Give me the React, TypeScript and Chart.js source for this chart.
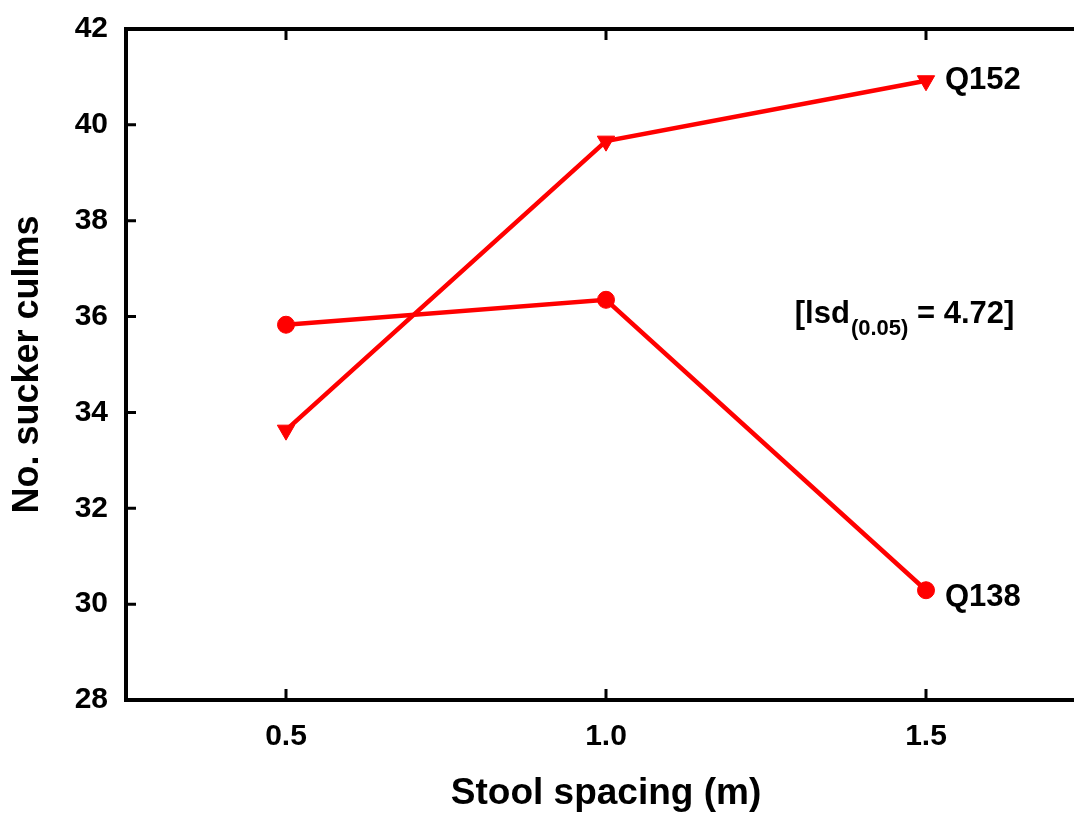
import React, { useEffect, useRef } from "react";
import { Chart, registerables } from "chart.js";

Chart.register(...registerables);

// ---- data ----
const categories = [0.5, 1.0, 1.5];
const q138Values = [35.83, 36.35, 30.29];
const q152Values = [33.63, 39.66, 40.92];
const seriesNames = ["Q138", "Q152"];
const xTickValues = [0.5, 1.0, 1.5];
const yMin = 28;
const yMax = 42;
const yStep = 2;
const xTitle = "Stool spacing (m)";
const yTitle = "No. sucker culms";
const lsdMain = "[lsd";
const lsdSub = "(0.05)";
const lsdTail = " = 4.72]";
const lsdAnchor = [1.295, 35.86];

const FONT = "'Liberation Sans', Arial, Helvetica, sans-serif";
const RED = "#ff0000";
const CANVAS_W = 1097;

const framePlugin = {
  id: "framePlugin",
  afterDraw(chart: any) {
    const { ctx, chartArea, scales } = chart;
    const x = scales.x;
    const y = scales.y;
    const { left, top, right, bottom } = chartArea;
    ctx.save();
    ctx.strokeStyle = "#000";
    ctx.lineWidth = 4;
    ctx.lineCap = "butt";
    ctx.lineJoin = "miter";
    ctx.beginPath();
    ctx.moveTo(right + 4, top);
    ctx.lineTo(left, top);
    ctx.lineTo(left, bottom);
    ctx.lineTo(right + 4, bottom);
    ctx.stroke();
    // inward ticks
    ctx.lineWidth = 3;
    ctx.beginPath();
    for (let v = yMin + yStep; v < yMax; v += yStep) {
      const py = y.getPixelForValue(v);
      ctx.moveTo(left, py);
      ctx.lineTo(left + 10, py);
    }
    for (const v of xTickValues) {
      const px = x.getPixelForValue(v);
      ctx.moveTo(px, bottom);
      ctx.lineTo(px, bottom - 11);
      ctx.moveTo(px, top);
      ctx.lineTo(px, top + 11);
    }
    ctx.stroke();

    // series labels
    ctx.fillStyle = "#000";
    ctx.font = `bold 31px ${FONT}`;
    ctx.textAlign = "left";
    ctx.textBaseline = "middle";
    const last = categories.length - 1;
    ctx.fillText(
      seriesNames[1],
      x.getPixelForValue(categories[last]) + 19,
      y.getPixelForValue(q152Values[last])
    );
    ctx.fillText(
      seriesNames[0],
      x.getPixelForValue(categories[last]) + 19,
      y.getPixelForValue(q138Values[last]) + 7
    );

    // lsd annotation
    ctx.textBaseline = "alphabetic";
    let ax = x.getPixelForValue(lsdAnchor[0]);
    const ay = y.getPixelForValue(lsdAnchor[1]);
    ctx.font = `bold 31px ${FONT}`;
    ctx.fillText(lsdMain, ax, ay);
    ax += ctx.measureText(lsdMain).width + 1;
    ctx.font = `bold 22px ${FONT}`;
    ctx.fillText(lsdSub, ax, ay + 12);
    ax += ctx.measureText(lsdSub).width;
    ctx.font = `bold 31px ${FONT}`;
    ctx.fillText(lsdTail, ax, ay);
    ctx.restore();
  },
};

export default function App() {
  const canvasRef = useRef<HTMLCanvasElement | null>(null);

  useEffect(() => {
    if (!canvasRef.current) return;
    const chart = new Chart(canvasRef.current, {
      type: "line",
      data: {
        datasets: [
          {
            label: seriesNames[0],
            data: categories.map((c, i) => ({ x: c, y: q138Values[i] })),
            borderColor: RED,
            backgroundColor: RED,
            borderWidth: 4.5,
            pointStyle: "circle",
            pointRadius: 8.5,
            pointBorderWidth: 1,
            pointBackgroundColor: RED,
            pointBorderColor: RED,
            tension: 0,
          },
          {
            label: seriesNames[1],
            data: categories.map((c, i) => ({ x: c, y: q152Values[i] })),
            borderColor: RED,
            backgroundColor: RED,
            borderWidth: 4.5,
            pointStyle: "triangle",
            pointRotation: 180,
            pointRadius: 10,
            pointBorderWidth: 1,
            pointBackgroundColor: RED,
            pointBorderColor: RED,
            tension: 0,
          },
        ],
      },
      options: {
        responsive: false,
        maintainAspectRatio: false,
        animation: false,
        devicePixelRatio: 1,
        layout: { padding: { top: 29, left: 0, right: 2, bottom: 0 } },
        plugins: {
          legend: { display: false },
          tooltip: { enabled: false },
        },
        scales: {
          x: {
            type: "linear",
            min: 0.25,
            max: 1.75,
            grid: { display: false, drawTicks: false },
            border: { display: false },
            afterBuildTicks: (scale: any) => {
              scale.ticks = xTickValues.map((v) => ({ value: v }));
            },
            afterFit: (scale: any) => {
              scale.height = 118;
              scale.paddingLeft = 0;
              scale.paddingRight = 0;
            },
            ticks: {
              color: "#000",
              padding: 19,
              font: { family: FONT, size: 30, weight: "bold" },
              callback: (v: any) => Number(v).toFixed(1),
            },
            title: {
              display: true,
              text: xTitle,
              color: "#000",
              font: { family: FONT, size: 37, weight: "bold" },
              padding: { top: 0, bottom: 2 },
            },
          },
          y: {
            type: "linear",
            min: yMin,
            max: yMax,
            grid: { display: false, drawTicks: false },
            border: { display: false },
            afterFit: (scale: any) => {
              scale.width = 126;
              scale.paddingTop = 0;
              scale.paddingBottom = 0;
            },
            ticks: {
              stepSize: yStep,
              color: "#000",
              padding: 18,
              font: { family: FONT, size: 30, weight: "bold" },
            },
            title: {
              display: true,
              text: yTitle,
              color: "#000",
              font: { family: FONT, size: 36, weight: "bold" },
              padding: { top: 6, bottom: 0 },
            },
          },
        },
      },
      plugins: [framePlugin],
    } as any);
    return () => chart.destroy();
  }, []);

  return (
    <div
      style={{
        position: "fixed",
        left: 0,
        top: 0,
        width: 1074,
        height: 818,
        overflow: "hidden",
        background: "#fff",
      }}
    >
      <div style={{ width: CANVAS_W, height: 818 }}>
        <canvas
          ref={canvasRef}
          width={CANVAS_W}
          height={818}
          style={{ display: "block", width: CANVAS_W, height: 818 }}
        />
      </div>
    </div>
  );
}
